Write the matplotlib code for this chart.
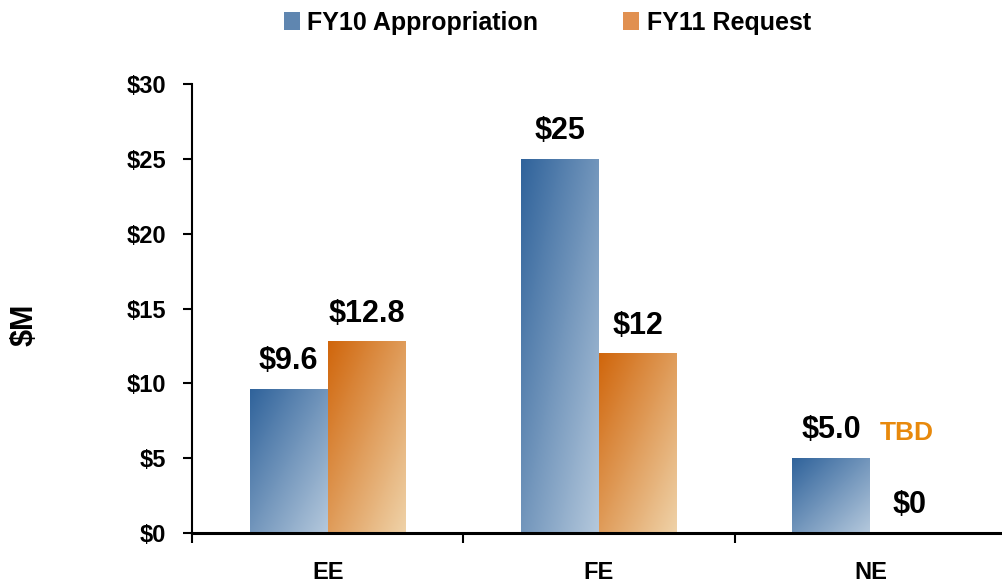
import numpy as np
import matplotlib
matplotlib.use('Agg')
import matplotlib.pyplot as plt
from matplotlib.colors import LinearSegmentedColormap
from matplotlib.patches import Rectangle

categories = ['EE', 'FE', 'NE']
fy10 = [9.6, 25.0, 5.0]
fy11 = [12.8, 12.0, 0.0]
fy10_labels = ['$9.6', '$25', '$5.0']
fy11_labels = ['$12.8', '$12', '$0']
yticks = [0, 5, 10, 15, 20, 25, 30]
ytick_labels = ['$0', '$5', '$10', '$15', '$20', '$25', '$30']
series_names = ['FY10 Appropriation', 'FY11 Request']
tbd_value = 6.2

plt.rcParams['font.family'] = ['Liberation Sans', 'DejaVu Sans']
plt.rcParams['font.weight'] = 'bold'

blue_cm = LinearSegmentedColormap.from_list('b', ['#30639b', '#b4c8dc'])
orange_cm = LinearSegmentedColormap.from_list('o', ['#d0660c', '#efd2a8'])

# bar-normalised diagonal gradient, dark top-left -> light bottom-right
u = np.linspace(0, 1, 64)
grad = (u[None, :] + (1 - u)[:, None]) / 2.0


def gbar(ax, x, w, h, cmap):
    if h <= 0:
        return
    r = Rectangle((x, 0), w, h, facecolor='none', edgecolor='none')
    ax.add_patch(r)
    im = ax.imshow(grad, cmap=cmap, vmin=0, vmax=1, origin='lower', extent=(x, x + w, 0, h),
                   aspect='auto', interpolation='bilinear', zorder=2)
    im.set_clip_path(r)


fig = plt.figure(figsize=(10.02, 5.86), dpi=100)
ax = fig.add_axes([0.1916, 0.0904, 0.8124, 0.7662])

bw = 0.287
xs = np.arange(len(categories))
for i in xs:
    gbar(ax, i - bw, bw, fy10[i], blue_cm)
    gbar(ax, i, bw, fy11[i], orange_cm)

off = 1.33
for i in xs:
    ax.text(i - bw / 2, fy10[i] + off, fy10_labels[i], ha='center', va='baseline', fontsize=22, fontweight='bold')
    ax.text(i + bw / 2, fy11[i] + off, fy11_labels[i], ha='center', va='baseline', fontsize=22, fontweight='bold')
ax.text(2 + bw / 2 - 0.01, tbd_value, 'TBD', ha='center', va='baseline', fontsize=19, fontweight='bold', color='#e8890c')

ax.set_xlim(-0.5, 2.5)
ax.set_ylim(0, 30)
ax.set_yticks(yticks)
ax.set_yticklabels(ytick_labels, fontsize=17, fontweight='bold')
ax.set_xticks([-0.5, 0.5, 1.5, 2.5])
ax.set_xticklabels([])
ax.set_xticks(xs, minor=True)
ax.set_xticklabels(categories, minor=True, fontsize=17, fontweight='bold')
ax.tick_params(axis='x', which='minor', length=0, pad=20)
ax.tick_params(axis='x', which='major', length=7, width=1.5, direction='out')
ax.tick_params(axis='y', length=6.5, width=1.5, direction='out', pad=12)
for s in ['top', 'right']:
    ax.spines[s].set_visible(False)
ax.spines['left'].set_linewidth(1.5)
ax.spines['bottom'].set_linewidth(2.2)
fig.text(25 / 1002, 1 - 325 / 586, '$M', rotation=90, ha='center', va='center', fontsize=22, fontweight='bold')

# legend
handles = [Rectangle((0, 0), 1, 1, facecolor='#5f86b0'), Rectangle((0, 0), 1, 1, facecolor='#e19050')]
fig.legend(handles, series_names, loc='center', bbox_to_anchor=(0.546, 0.961), ncol=2,
           frameon=False, handlelength=0.64, handleheight=0.75, columnspacing=3.4,
           handletextpad=0.3, prop={'weight': 'bold', 'size': 18})

fig.savefig('out.png', dpi=100)
